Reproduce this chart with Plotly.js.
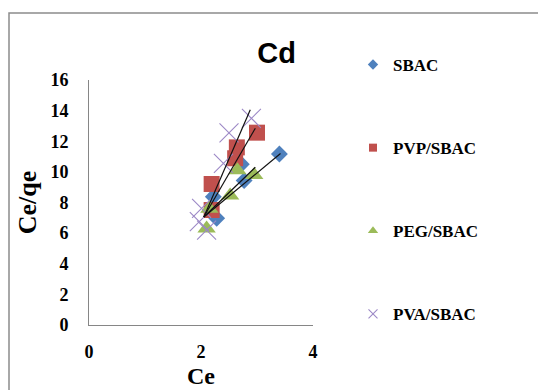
<!DOCTYPE html>
<html>
<head>
<meta charset="utf-8">
<script src="https://cdn.plot.ly/plotly-3.0.1.min.js"></script>
<style>html,body{margin:0;padding:0;background:#fff;}#chart{width:538px;height:390px;}</style>
</head>
<body>
<div id="chart"></div>
<script>
// ---- data ----
const seriesNames = ["SBAC", "PVP/SBAC", "PEG/SBAC", "PVA/SBAC"];

const sbacX = [2.22, 2.28, 2.72, 2.77, 3.40];
const sbacY = [8.38, 6.97, 10.5, 9.43, 11.17];

const pvpX = [2.19, 2.19, 2.61, 2.64, 3.00];
const pvpY = [7.51, 9.21, 10.89, 11.6, 12.56];

const pegX = [2.10, 2.15, 2.52, 2.65, 2.95];
const pegY = [6.3, 7.6, 8.45, 10.1, 9.8];

const pvaX = [1.97, 2.01, 2.10, 2.40, 2.50, 2.90];
const pvaY = [6.75, 7.62, 6.2, 10.55, 12.55, 13.5];

// trend lines (end points)
const sbacFitX = [2.05, 3.42];
const sbacFitY = [7.05, 11.2];
const pvpFitX = [2.05, 2.97];
const pvpFitY = [7.05, 12.85];
const pegFitX = [2.05, 2.97];
const pegFitY = [7.05, 10.3];
const pvaFitX = [2.05, 2.88];
const pvaFitY = [7.05, 14.05];

const xTickVals = [0, 2, 4];
const yTickVals = [0, 2, 4, 6, 8, 10, 12, 14, 16];

// ---- styles ----
const colors = ["#4F81BD", "#C0504D", "#9BBB59", "#9C88C6"];
const symbols = ["diamond", "square", "triangle-up", "x-thin-open"];
const sizes = [13, 16, 16, 19];
const legendSizes = [8, 8, 9, 9];

const xs = [sbacX, pvpX, pegX, pvaX];
const ys = [sbacY, pvpY, pegY, pvaY];
const fitXs = [sbacFitX, pvpFitX, pegFitX, pvaFitX];
const fitYs = [sbacFitY, pvpFitY, pegFitY, pvaFitY];

const traces = [];
for (let i = 0; i < 4; i++) {
  traces.push({
    type: "scatter", mode: "markers", x: xs[i], y: ys[i], name: seriesNames[i],
    showlegend: false, hoverinfo: "skip",
    marker: {symbol: symbols[i], size: sizes[i], color: colors[i],
             line: {color: colors[i], width: i === 3 ? 1.1 : 0}}
  });
}
for (let i = 0; i < 4; i++) {
  traces.push({
    type: "scatter", mode: "lines", x: fitXs[i], y: fitYs[i],
    showlegend: false, hoverinfo: "skip",
    line: {color: "#111111", width: 1.2}
  });
}
// legend entries (small markers like the reference legend)
for (let i = 0; i < 4; i++) {
  traces.push({
    type: "scatter", mode: "markers", x: [null], y: [null], name: seriesNames[i],
    legendgroup: "g" + i, showlegend: true, hoverinfo: "skip",
    marker: {symbol: symbols[i], size: legendSizes[i], color: colors[i],
             line: {color: colors[i], width: i === 3 ? 1.1 : 0}}
  });
}

const tickFont = {family: "Liberation Serif", size: 18, color: "#000", weight: "bold"};
const titleFont = {family: "Liberation Serif", size: 24, color: "#000", weight: "bold"};

const layout = {
  width: 538, height: 390,
  margin: {l: 89, r: 225, t: 80, b: 65},
  paper_bgcolor: "#fff", plot_bgcolor: "#fff",
  title: {text: "Cd", font: {family: "Liberation Sans", size: 29, color: "#000", weight: "bold"},
          x: 0.514, xref: "container", xanchor: "center",
          y: 1 - 53 / 390, yref: "container", yanchor: "middle"},
  xaxis: {range: [0, 4], tickvals: xTickVals, showgrid: false, zeroline: false,
          showline: true, linecolor: "#868686", linewidth: 1, ticks: "",
          tickfont: tickFont, ticklabelstandoff: 10,
          title: {text: "Ce", font: titleFont, standoff: 6}},
  yaxis: {range: [0, 16], tickvals: yTickVals, showgrid: false, zeroline: false,
          showline: true, linecolor: "#868686", linewidth: 1, ticks: "",
          tickfont: tickFont, ticklabelstandoff: 16,
          title: {text: "Ce/qe", font: {family: "Liberation Serif", size: 26, color: "#000", weight: "bold"}, standoff: 6}},
  legend: {x: 353 / 538, xref: "container", xanchor: "left",
           y: 1 - 47 / 390, yref: "container", yanchor: "top",
           maxheight: 380,
           font: {family: "Liberation Serif", size: 17, color: "#000", weight: "bold"},
           traceorder: "grouped", tracegroupgap: 58, bgcolor: "rgba(0,0,0,0)", borderwidth: 0},
  shapes: [{type: "rect", xref: "paper", yref: "paper",
            x0: -80 / 224, x1: 460 / 224, y0: -70 / 245, y1: 312 / 245,
            line: {color: "#8c8c8c", width: 1.5}, fillcolor: "rgba(0,0,0,0)"}],
  showlegend: true
};

Plotly.newPlot("chart", traces, layout, {displayModeBar: false, staticPlot: true});
</script>
</body>
</html>
